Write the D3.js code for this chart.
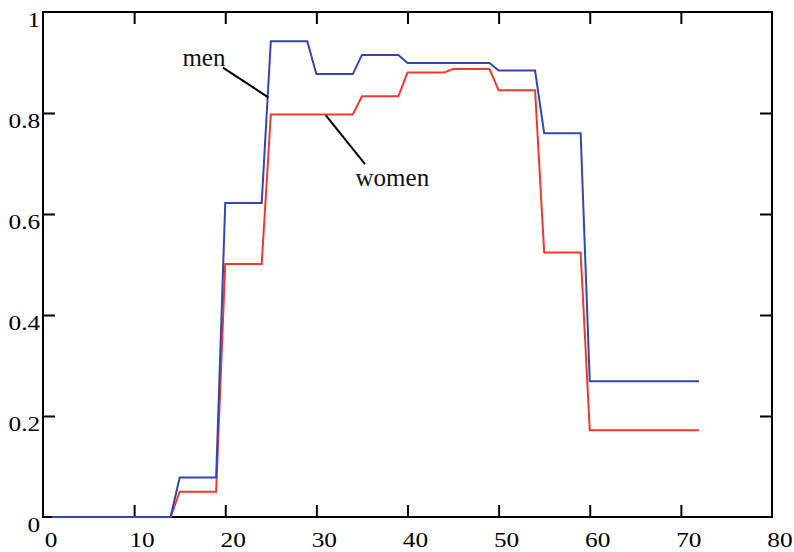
<!DOCTYPE html>
<html><head><meta charset="utf-8">
<script src="https://cdn.jsdelivr.net/npm/d3@7"></script>
<style>html,body{margin:0;padding:0;background:#fff;}svg{display:block;} text{font-family:'Liberation Serif','Times New Roman',serif;}</style>
</head><body>
<svg id="chart" width="794" height="552"></svg>
<script>
// Data: age breakpoints (line segments join consecutive points)
const menAges   = [1, 14, 15, 19, 20, 24, 25, 29, 30, 34, 35, 39, 40, 49, 50, 54, 55, 59, 60, 72];
const menValues = [0, 0, 0.078, 0.078, 0.622, 0.622, 0.942, 0.942, 0.877, 0.877, 0.915, 0.915, 0.899, 0.899, 0.884, 0.884, 0.760, 0.760, 0.269, 0.269];
const womenAges   = [1, 14, 15, 19, 20, 24, 25, 34, 35, 39, 40, 44, 45, 49, 50, 54, 55, 59, 60, 72];
const womenValues = [0, 0, 0.050, 0.050, 0.501, 0.501, 0.797, 0.797, 0.833, 0.833, 0.880, 0.880, 0.887, 0.887, 0.845, 0.845, 0.524, 0.524, 0.172, 0.172];
const xTicks = [0, 10, 20, 30, 40, 50, 60, 70, 80];
const yTicks = [0, 0.2, 0.4, 0.6, 0.8, 1];
const yTickLabels = ["0", "0.2", "0.4", "0.6", "0.8", "1"];
const annotations = [
  {label: "men",   tx: 15.3, ty: 0.893, x1: 19.75, y1: 0.890, x2: 24.72, y2: 0.831},
  {label: "women", tx: 34.3, ty: 0.655, x1: 31.02, y1: 0.796, x2: 35.34, y2: 0.699}
];

const svg = d3.select("#chart");
const L = 43, R = 772, T = 12, B = 517;
const x = d3.scaleLinear().domain([0, 80]).range([L, R]);
const y = d3.scaleLinear().domain([0, 1]).range([B, T]);
const font = "'Liberation Serif', 'Times New Roman', serif";

// frame
svg.append("rect").attr("x", L).attr("y", T).attr("width", R - L).attr("height", B - T)
  .attr("fill", "none").attr("stroke", "#000").attr("stroke-width", 2);

const tk = 12;
function styleAxis(g) {
  g.attr("font-family", null);
  g.select(".domain").remove();
  g.selectAll(".tick line").attr("stroke", "#000").attr("stroke-width", 2);
}
// bottom axis (ticks inward)
svg.append("g").attr("transform", `translate(0,${B})`)
  .call(d3.axisBottom(x).tickValues(xTicks).tickSize(-tk).tickPadding(0).tickFormat(d3.format("d")))
  .call(styleAxis)
  .call(g => g.selectAll(".tick line").filter(d => d === 0 || d === 80).remove())
  .call(g => g.selectAll(".tick text").style("font-family", font).attr("font-size", 22)
     .attr("fill", "#000").attr("y", 30).attr("dy", 0).attr("x", 6.5).attr("transform", "scale(1.15,1)"));
// top axis ticks
svg.append("g").attr("transform", `translate(0,${T})`)
  .call(d3.axisTop(x).tickValues(xTicks.filter(d => d > 0 && d < 80)).tickSize(-tk).tickFormat(""))
  .call(styleAxis);
// left axis
svg.append("g").attr("transform", `translate(${L},0)`)
  .call(d3.axisLeft(y).tickValues(yTicks).tickSize(-tk).tickPadding(0).tickFormat((d, i) => yTickLabels[i]))
  .call(styleAxis)
  .call(g => g.selectAll(".tick line").filter(d => d === 0 || d === 1).remove())
  .call(g => g.selectAll(".tick text").style("font-family", font).attr("font-size", 22)
     .attr("fill", "#000").attr("x", -2.5).attr("dy", 14).attr("transform", "scale(1.15,1)"));
// right axis ticks
svg.append("g").attr("transform", `translate(${R},0)`)
  .call(d3.axisRight(y).tickValues(yTicks.filter(d => d > 0 && d < 1)).tickSize(-tk).tickFormat(""))
  .call(styleAxis);

// lines
const line = d3.line().x(d => x(d[0])).y(d => y(d[1]));
const menData = menAges.map((a, i) => [a, menValues[i]]);
const womenData = womenAges.map((a, i) => [a, womenValues[i]]);
svg.append("path").datum(womenData).attr("d", line).attr("fill", "none")
  .attr("stroke", "#ee3a2c").attr("stroke-width", 2);
svg.append("path").datum(menData).attr("d", line).attr("fill", "none")
  .attr("stroke", "#3247b0").attr("stroke-width", 2);

// annotations
annotations.forEach(a => {
  svg.append("line").attr("x1", x(a.x1)).attr("y1", y(a.y1)).attr("x2", x(a.x2)).attr("y2", y(a.y2))
    .attr("stroke", "#000").attr("stroke-width", 2);
  svg.append("text").attr("x", x(a.tx)).attr("y", y(a.ty)).text(a.label)
    .style("font-family", font).attr("font-size", 25).attr("fill", "#111");
});
</script>
</body></html>
